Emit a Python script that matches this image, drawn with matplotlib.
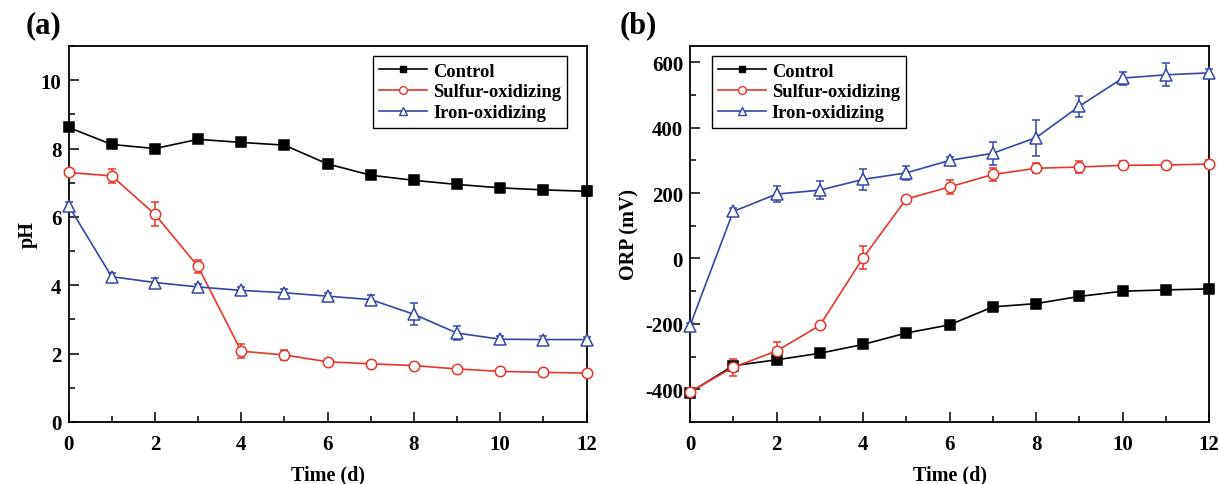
import matplotlib.pyplot as plt
from matplotlib.lines import Line2D
from matplotlib.ticker import MultipleLocator

plt.rcParams['font.family'] = ['Liberation Serif', 'DejaVu Serif']
plt.rcParams['font.weight'] = 'bold'
plt.rcParams['axes.unicode_minus'] = False

days = list(range(13))

# (a) pH
ph_control = [8.62, 8.12, 8.0, 8.27, 8.18, 8.1, 7.55, 7.22, 7.07, 6.95, 6.85, 6.79, 6.75]
ph_control_err = [0.05, 0.05, 0.05, 0.05, 0.05, 0.05, 0.05, 0.05, 0.05, 0.05, 0.05, 0.05, 0.15]
ph_sulfur = [7.3, 7.2, 6.08, 4.55, 2.07, 1.96, 1.76, 1.7, 1.65, 1.55, 1.48, 1.45, 1.43]
ph_sulfur_err = [0.05, 0.2, 0.35, 0.2, 0.2, 0.15, 0.08, 0.08, 0.08, 0.07, 0.07, 0.06, 0.06]
ph_iron = [6.33, 4.25, 4.08, 3.95, 3.85, 3.78, 3.68, 3.58, 3.15, 2.6, 2.42, 2.41, 2.41]
ph_iron_err = [0.12, 0.1, 0.12, 0.1, 0.1, 0.1, 0.1, 0.12, 0.32, 0.2, 0.1, 0.1, 0.08]

# (b) ORP (mV)
orp_control = [-410, -328, -310, -290, -263, -228, -203, -148, -138, -116, -100, -96, -93]
orp_control_err = [10, 10, 10, 5, 5, 5, 5, 5, 5, 5, 5, 5, 5]
orp_sulfur = [-408, -333, -283, -205, 2, 182, 219, 257, 276, 280, 285, 286, 289]
orp_sulfur_err = [8, 25, 27, 5, 35, 10, 22, 20, 15, 18, 12, 10, 12]
orp_iron = [-206, 144, 197, 209, 242, 262, 300, 322, 370, 466, 552, 562, 568]
orp_iron_err = [10, 12, 25, 28, 32, 22, 12, 35, 55, 32, 20, 35, 12]

labels = ['Control', 'Sulfur-oxidizing', 'Iron-oxidizing']
colors = ['black', '#e8352b', '#3346a8']
markers = ['s', 'o', '^']
faces = ['black', 'white', 'white']
msizes = [6.5, 7.5, 8]

fig = plt.figure(figsize=(12.19, 4.85), dpi=100)
ax1 = fig.add_axes([0.0562, 0.128, 0.425, 0.775])
ax2 = fig.add_axes([0.566, 0.128, 0.426, 0.775])

# legend handles without error bars, smaller markers like the original
legend_handles = [Line2D([], [], color=c, marker=m, markersize=ms * 0.75, markerfacecolor=f,
                         markeredgecolor=c, linewidth=1.2)
                  for c, m, f, ms in zip(colors, markers, faces, msizes)]


def draw(ax, series, errs):
    for y, e, c, m, f, ms in zip(series, errs, colors, markers, faces, msizes):
        ax.errorbar(days, y, yerr=e, color=c, marker=m, markersize=ms,
                    markerfacecolor=f, markeredgecolor=c, markeredgewidth=1.1,
                    linewidth=1.2, elinewidth=1.1, capsize=3, clip_on=False, zorder=3)
    ax.set_xlim(0, 12)
    ax.xaxis.set_major_locator(MultipleLocator(2))
    ax.xaxis.set_minor_locator(MultipleLocator(1))
    ax.tick_params(which='both', direction='in', labelsize=15, top=False, right=False)
    ax.tick_params(which='major', length=7, width=1.1)
    ax.tick_params(which='minor', length=4, width=1.1)
    ax.tick_params(axis='x', pad=9)
    ax.tick_params(axis='y', pad=5)
    for s in ax.spines.values():
        s.set_linewidth(1.3)
    ax.set_xlabel('Time (d)', fontsize=14.5, fontweight='bold', labelpad=7)
    for t in ax.get_xticklabels() + ax.get_yticklabels():
        t.set_fontweight('bold')


def add_legend(ax, loc, anchor):
    ax.legend(legend_handles, labels, loc=loc, bbox_to_anchor=anchor, fancybox=False,
              edgecolor='black', framealpha=1, prop={'weight': 'bold', 'size': 13.3},
              handlelength=2.6, handletextpad=0.3, borderpad=0.35, labelspacing=0.2,
              borderaxespad=0)


draw(ax1, [ph_control, ph_sulfur, ph_iron], [ph_control_err, ph_sulfur_err, ph_iron_err])
ax1.set_ylim(0, 11)
ax1.yaxis.set_major_locator(MultipleLocator(2))
ax1.yaxis.set_minor_locator(MultipleLocator(1))
ax1.set_ylabel('pH', fontsize=14.5, fontweight='bold', labelpad=2)
add_legend(ax1, 'upper right', (0.963, 0.973))
ax1.text(-0.083, 1.018, '(a)', transform=ax1.transAxes, fontsize=22, fontweight='bold',
         ha='left', va='bottom')

draw(ax2, [orp_control, orp_sulfur, orp_iron], [orp_control_err, orp_sulfur_err, orp_iron_err])
ax2.set_ylim(-500, 650)
ax2.yaxis.set_major_locator(MultipleLocator(200))
ax2.yaxis.set_minor_locator(MultipleLocator(100))
ax2.set_ylabel('ORP (mV)', fontsize=14.5, fontweight='bold', labelpad=4)
add_legend(ax2, 'upper left', (0.042, 0.973))
ax2.text(-0.135, 1.018, '(b)', transform=ax2.transAxes, fontsize=22, fontweight='bold',
         ha='left', va='bottom')

fig.savefig('out.png', dpi=100)
